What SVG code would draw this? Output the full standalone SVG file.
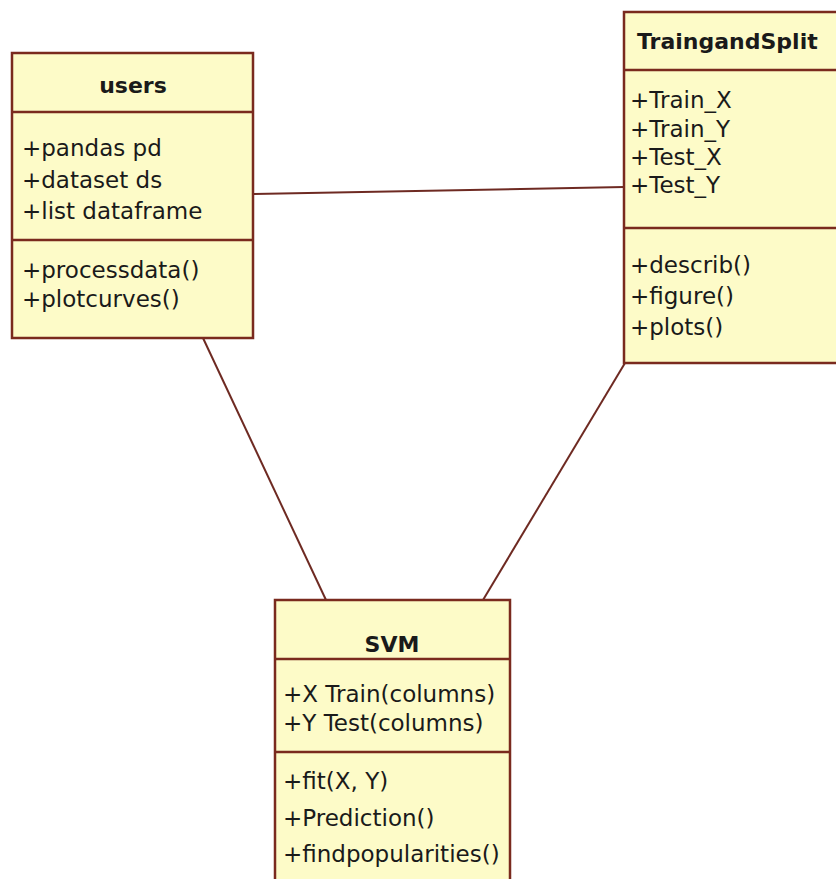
<svg xmlns="http://www.w3.org/2000/svg" width="836" height="879" viewBox="0 0 836 879">
  <style>
    .box { fill: #fdfbc8; stroke: #7a2a1e; stroke-width: 2.5; }
    .sep { stroke: #7a2a1e; stroke-width: 2.5; }
    .link { stroke: #6e2a22; stroke-width: 2; fill: none; }
    .title { font-family: "DejaVu Sans", "Liberation Sans", sans-serif; font-weight: bold; font-size: 22px; fill: #1a1a1a; }
    .member { font-family: "DejaVu Sans", "Liberation Sans", sans-serif; font-size: 23px; fill: #1a1a1a; }
  </style>
  <rect width="836" height="879" fill="#ffffff"/>

  <!-- associations between classes -->
  <g id="connectors">
    <line class="link" x1="253" y1="194" x2="624" y2="187"/>
    <line class="link" x1="203" y1="338" x2="326" y2="600"/>
    <line class="link" x1="625" y1="363" x2="483" y2="600"/>
  </g>

  <!-- class: users -->
  <g id="users">
    <rect class="box" x="12" y="53" width="241" height="285"/>
    <line class="sep" x1="12" y1="112" x2="253" y2="112"/>
    <line class="sep" x1="12" y1="240" x2="253" y2="240"/>
    <text class="title" x="133" y="93" text-anchor="middle">users</text>
    <text class="member" x="22" y="156">+pandas pd</text>
    <text class="member" x="22" y="188">+dataset ds</text>
    <text class="member" x="22" y="219">+list dataframe</text>
    <text class="member" x="22" y="278">+processdata()</text>
    <text class="member" x="22" y="307">+plotcurves()</text>
  </g>

  <!-- class: TraingandSplit -->
  <g id="TraingandSplit">
    <rect class="box" x="624" y="12" width="240" height="351"/>
    <line class="sep" x1="624" y1="70" x2="864" y2="70"/>
    <line class="sep" x1="624" y1="228" x2="864" y2="228"/>
    <text class="title" x="637" y="49">TraingandSplit</text>
    <text class="member" x="630" y="108">+Train_X</text>
    <text class="member" x="630" y="137">+Train_Y</text>
    <text class="member" x="630" y="165">+Test_X</text>
    <text class="member" x="630" y="193">+Test_Y</text>
    <text class="member" x="630" y="273">+describ()</text>
    <text class="member" x="630" y="304">+figure()</text>
    <text class="member" x="630" y="335">+plots()</text>
  </g>

  <!-- class: SVM -->
  <g id="SVM">
    <rect class="box" x="275" y="600" width="235" height="300"/>
    <line class="sep" x1="275" y1="659" x2="510" y2="659"/>
    <line class="sep" x1="275" y1="752" x2="510" y2="752"/>
    <text class="title" x="392" y="652" text-anchor="middle">SVM</text>
    <text class="member" x="283" y="702">+X Train(columns)</text>
    <text class="member" x="283" y="731">+Y Test(columns)</text>
    <text class="member" x="283" y="789">+fit(X, Y)</text>
    <text class="member" x="283" y="826">+Prediction()</text>
    <text class="member" x="283" y="862">+findpopularities()</text>
  </g>
</svg>
